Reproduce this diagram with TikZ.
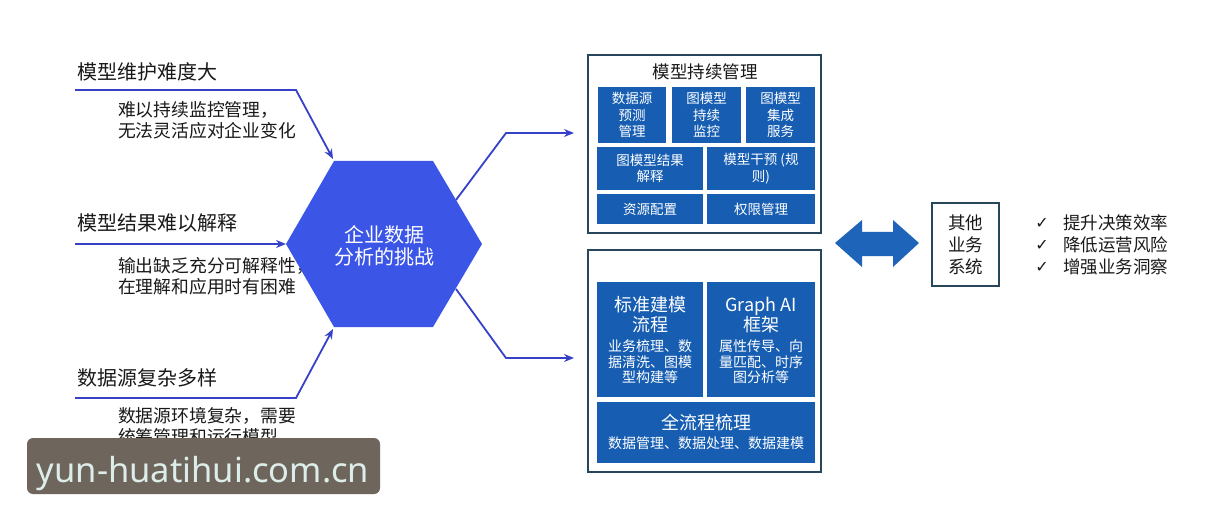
\documentclass[tikz,border=0pt]{standalone}
\usepackage{fontspec}
\setmainfont{Noto Sans CJK SC}
\newfontfamily\symfont{DejaVu Sans}
\newfontfamily\wmfont{Noto Sans}
\usetikzlibrary{arrows.meta}
\definecolor{hexblue}{RGB}{59,85,230}
\definecolor{connblue}{RGB}{55,65,200}
\definecolor{boxblue}{RGB}{23,94,178}
\definecolor{arrblue}{RGB}{30,100,185}
\definecolor{frame}{RGB}{40,70,90}
\definecolor{ink}{RGB}{25,25,25}
\definecolor{wmbg}{RGB}{110,101,92}
\definecolor{wmtext}{RGB}{221,238,234}
\newcommand\setfs[2]{\fontsize{#1}{#2}\selectfont}
\tikzset{
  every node/.style={inner sep=0pt, outer sep=0pt, text=ink},
  conn/.style={draw=connblue, line width=1.8pt, -{Stealth[length=10pt,width=8pt]}},
  bbox/.style={fill=boxblue, anchor=north west, align=center, text=white, font=\setfs{13.5}{16.5}},
  obox/.style={draw=frame, line width=1.2pt, anchor=north west},
  ttl/.style={anchor=west, font=\setfs{20}{22}},
  sub/.style={anchor=west, align=left, font=\setfs{17.8}{21}},
  rtxt/.style={align=center, text=white},
  chk/.style={font=\symfont\fontsize{16}{18}\selectfont},
}
\begin{document}
\begin{tikzpicture}[x=1pt,y=-1pt]
\useasboundingbox[fill=white] (0,0) rectangle (1214,521);

% ---------- left titles and texts ----------
\node[ttl] (t1) at (77,72) {模型维护难度大};
\node[sub] (s1) at (118,120) {难以持续监控管理，\\无法灵活应对企业变化};
\node[ttl] (t2) at (77,223) {模型结果难以解释};
\node[sub] (s2) at (118,276) {输出缺乏充分可解释性，\\在理解和应用时有困难};
\node[ttl] (t3) at (77,378) {数据源复杂多样};
\node[sub] (s3) at (118,426) {数据源环境复杂，需要\\统筹管理和运行模型};

% ---------- hexagon ----------
\coordinate (hL) at (286,244);
\coordinate (hTL) at (334,161);
\coordinate (hTR) at (433,161);
\coordinate (hR) at (482,244);
\coordinate (hBR) at (433,327);
\coordinate (hBL) at (334,327);
\fill[hexblue] (hL) -- (hTL) -- (hTR) -- (hR) -- (hBR) -- (hBL) -- cycle;
\node[rtxt, font=\setfs{20}{22}] (hex) at (384,246) {企业数据\\分析的挑战};

% ---------- left connectors ----------
\coordinate (a1) at (75,90);
\coordinate (b1) at (296,90);
\coordinate (e1) at (333,159);
\draw[conn] (a1) -- (b1) -- (e1);
\coordinate (a2) at (75,244);
\draw[conn] (a2) -- (hL);
\coordinate (a3) at (75,398);
\coordinate (b3) at (296,398);
\coordinate (e3) at (333,329);
\draw[conn] (a3) -- (b3) -- (e3);

% ---------- top right box ----------
\node[obox, minimum width=233pt, minimum height=178pt] (top) at (588,55) {};
\node[font=\setfs{17.5}{20}] (toptitle) at (705,72) {模型持续管理};
\node[bbox, minimum width=68pt, minimum height=56pt] (m1) at (598,87) {数据源\\预测\\管理};
\node[bbox, minimum width=69pt, minimum height=56pt] (m2) at (672,87) {图模型\\持续\\监控};
\node[bbox, minimum width=69pt, minimum height=56pt] (m3) at (746,87) {图模型\\集成\\服务};
\node[bbox, minimum width=106pt, minimum height=43pt] (m4) at (597,147) {图模型结果\\解释};
\node[bbox, minimum width=108pt, minimum height=43pt] (m5) at (707,147) {模型干预 (规\\则)};
\node[bbox, minimum width=106pt, minimum height=30pt] (m6) at (597,194) {资源配置};
\node[bbox, minimum width=108pt, minimum height=30pt] (m7) at (707,194) {权限管理};

% ---------- bottom right box ----------
\node[obox, minimum width=233pt, minimum height=222pt] (bot) at (588,250) {};
\node[bbox, minimum width=106pt, minimum height=115pt] (nA) at (597,282) {};
\node[bbox, minimum width=108pt, minimum height=115pt] (nB) at (707,282) {};
\node[bbox, minimum width=218pt, minimum height=61pt] (nC) at (597,402) {};
\node[rtxt, font=\setfs{18}{20}] (nA1) at (650,315) {标准建模\\流程};
\node[rtxt, font=\setfs{14}{15.5}] (nA2) at (650,362) {业务梳理、数\\据清洗、图模\\型构建等};
\node[rtxt, font=\setfs{18}{20}] (nB1) at (761,315) {Graph AI\\框架};
\node[rtxt, font=\setfs{14}{15.5}] (nB2) at (761,362) {属性传导、向\\量匹配、时序\\图分析等};
\node[rtxt, font=\setfs{18}{20}] (nC1) at (706,423) {全流程梳理};
\node[rtxt, font=\setfs{14}{15.5}] (nC2) at (706,443) {数据管理、数据处理、数据建模};

% ---------- right connectors ----------
\coordinate (r1) at (456,200);
\coordinate (r1b) at (506,133);
\coordinate (r1e) at (574,133);
\draw[conn] (r1) -- (r1b) -- (r1e);
\coordinate (r2) at (456,289);
\coordinate (r2b) at (506,358);
\coordinate (r2e) at (574,358);
\draw[conn] (r2) -- (r2b) -- (r2e);

% ---------- double arrow ----------
\fill[arrblue] (835,243) -- (862,220) -- (862,232) -- (893,232) -- (893,220) -- (919,243)
  -- (893,267) -- (893,256) -- (862,256) -- (862,267) -- cycle;

% ---------- other systems ----------
\node[draw=frame, line width=1.2pt, anchor=north west, minimum width=67pt, minimum height=83pt] (sys) at (932,203) {};
\node[align=center, font=\setfs{17.5}{22}] (systxt) at (sys.center) {其他\\业务\\系统};

\node[chk] (c1) at (1042,223) {✓};
\node[chk] (c2) at (1042,245) {✓};
\node[chk] (c3) at (1042,267) {✓};
\node[anchor=west, font=\setfs{17.5}{20}] (g1) at (1063,223) {提升决策效率};
\node[anchor=west, font=\setfs{17.5}{20}] (g2) at (1063,245) {降低运营风险};
\node[anchor=west, font=\setfs{17.5}{20}] (g3) at (1063,267) {增强业务洞察};

% ---------- watermark ----------
\fill[wmbg, rounded corners=6pt] (27,438) rectangle (380,494);
\node[anchor=base, text=wmtext, font=\wmfont\fontsize{34.5}{38}\selectfont] (wm) at (203,482) {yun-huatihui.com.cn};
\end{tikzpicture}
\end{document}
